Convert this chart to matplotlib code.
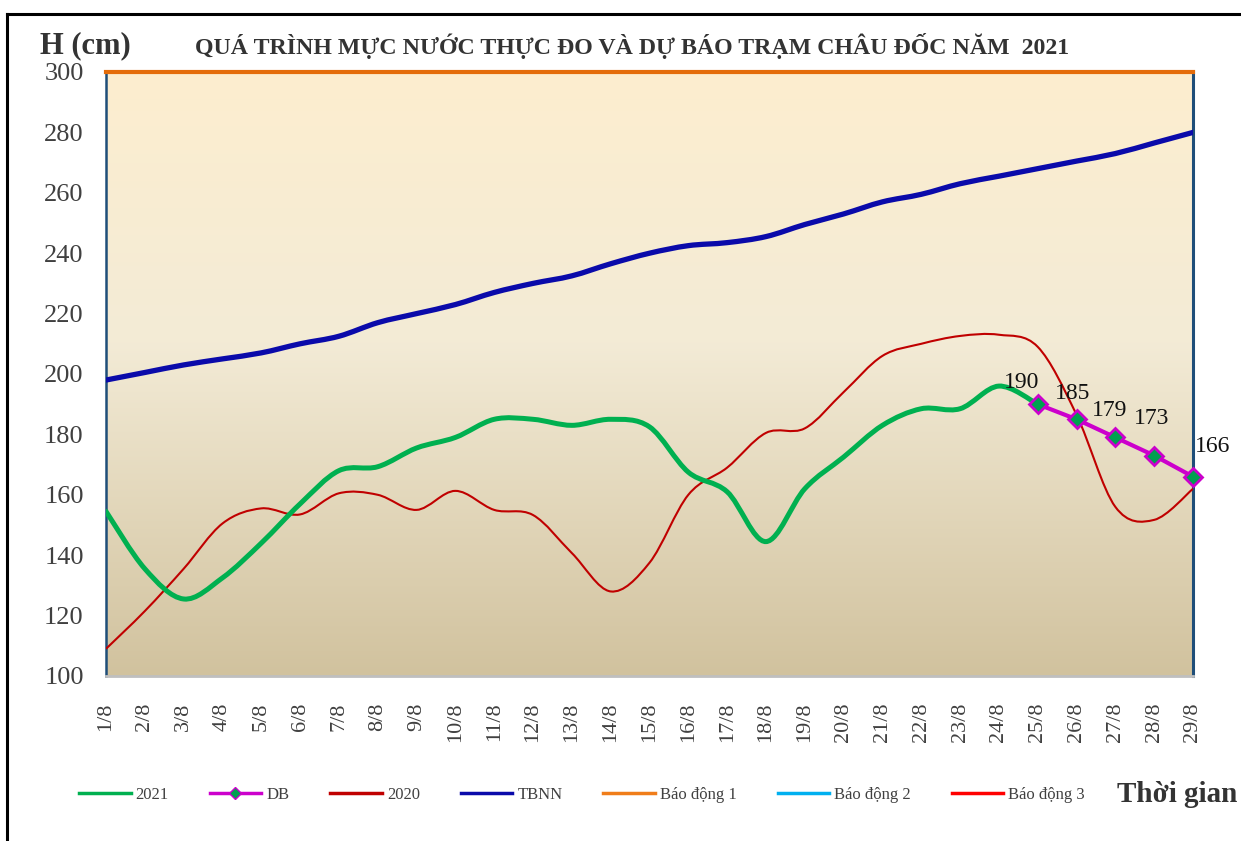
import numpy as np
import matplotlib
matplotlib.use("Agg")
import matplotlib.pyplot as plt
from matplotlib.path import Path
from matplotlib.patches import PathPatch
from matplotlib.lines import Line2D
from matplotlib.colors import LinearSegmentedColormap

plt.rcParams['font.family'] = ['Liberation Serif', 'DejaVu Serif']

# du lieu doc tu hinh
days = list(range(1, 30))
day_labels = ["{}/8".format(d) for d in days]

tbnn = [198, 200.5, 203, 205, 207, 210, 212.5, 217, 220, 223, 227, 230, 232.5, 236.5,
        240, 242.5, 243.5, 245.5, 249.5, 253, 257, 259.5, 263, 265.5, 268, 270.5, 273,
        276.5, 280]

h2021 = [154.5, 135.5, 125.5, 132.5, 144, 157, 168, 169.3, 175.5, 179, 185, 185, 183,
         185, 182.5, 167.5, 161, 144.5, 162, 172.5, 183, 188.5, 188.5, 196, 190]

h2020 = [109, 121.5, 135.5, 150.5, 155.5, 153.5, 160.5, 160, 155, 161.3, 155, 153.3,
         140.7, 128, 137.5, 160, 169, 180.5, 182, 194, 206, 210, 212.6, 213, 209,
         186.5, 156, 151.7, 162]

db_days = [25, 26, 27, 28, 29]
db = [190, 185, 179, 173, 166]

# muc bao dong tram Chau Doc (cm), nam ngoai khung truc
bd1, bd2, bd3 = 350, 400, 450


def smooth_path(x, y):
    # duong cong Bezier qua cac diem (kieu "smoothed line" cua Excel)
    pts = np.column_stack([x, y]).astype(float)
    n = len(pts)
    verts = [pts[0]]
    codes = [Path.MOVETO]
    for i in range(n - 1):
        p0 = pts[i - 1] if i > 0 else pts[i]
        p1 = pts[i]
        p2 = pts[i + 1]
        p3 = pts[i + 2] if i + 2 < n else pts[i + 1]
        c1 = p1 + (p2 - p0) / 6.0
        c2 = p2 - (p3 - p1) / 6.0
        verts += [c1, c2, p2]
        codes += [Path.CURVE4] * 3
    return Path(verts, codes)


fig = plt.figure(figsize=(12.41, 8.41), dpi=100)
ax = fig.add_axes([106 / 1241, 1 - 676 / 841, (1193 - 106) / 1241, (676 - 72) / 841])

# nen gradient (tren sang, duoi dam)
cmap = LinearSegmentedColormap.from_list(
    "nen", [(0, "#fdeecf"), (0.45, "#f3ebd6"), (1, "#d1c29e")])
grad = np.linspace(0, 1, 256).reshape(-1, 1)
ax.imshow(grad, cmap=cmap, extent=[1, 29, 100, 300], origin='upper', aspect='auto',
          zorder=0, interpolation='bilinear')
ax.set_xlim(1, 29)
ax.set_ylim(100, 300)

ax.add_patch(PathPatch(smooth_path(days, tbnn), fill=False, edgecolor='#0a0aaa',
                       lw=3.8, zorder=3, capstyle='round'))
ax.add_patch(PathPatch(smooth_path(days, h2020), fill=False, edgecolor='#c00000',
                       lw=1.5, zorder=4))
ax.add_patch(PathPatch(smooth_path(days[:len(h2021)], h2021), fill=False,
                       edgecolor='#00b050', lw=3.6, zorder=5, capstyle='round'))
ax.plot(db_days, db, color='#cc00cc', lw=3, marker='D', markersize=9,
        markerfacecolor='#00a050', markeredgecolor='#cc00cc', markeredgewidth=2,
        zorder=6, clip_on=False)
ax.plot(days, [bd1] * 29, color='#f07d1a', lw=2)
ax.plot(days, [bd2] * 29, color='#00b0f0', lw=2)
ax.plot(days, [bd3] * 29, color='#ff0000', lw=2)

offsets = [(-16, 22), (-4, 26), (-6, 27), (-3, 37), (20, 30)]
for xd, yd, off in zip(db_days, db, offsets):
    ax.annotate(str(yd), (xd, yd), xytext=(off[0] * 0.72, off[1] * 0.72),
                textcoords='offset points', ha='center', va='center',
                fontsize=17, color='#111111', zorder=7)

ax.set_yticks(range(100, 301, 20))
ax.set_xticks(days)
ax.set_xticklabels(day_labels, rotation=90, va='top', ha='center')
ax.tick_params(axis='y', length=0, pad=16, labelsize=19, labelcolor='#404040')
ax.tick_params(axis='x', length=0, pad=19, labelsize=16, labelcolor='#404040')

ax.spines['left'].set_color('#1f4e79')
ax.spines['left'].set_linewidth(1.8)
ax.spines['right'].set_color('#1f4e79')
ax.spines['right'].set_linewidth(2.2)
ax.spines['top'].set_color('#e46c0a')
ax.spines['top'].set_linewidth(3)
ax.spines['bottom'].set_color('#bfbfbf')
ax.spines['bottom'].set_linewidth(2)

fig.text(40 / 1241, 1 - 46 / 841, "H (cm)", fontsize=22, fontweight='bold',
         color='#333333', ha='left', va='center')
fig.text(632 / 1241, 1 - 46 / 841,
         "QUÁ TRÌNH MỰC NƯỚC THỰC ĐO VÀ DỰ BÁO TRẠM CHÂU ĐỐC NĂM  2021",
         fontsize=17.2, fontweight='bold', color='#333333', ha='center', va='center')

handles = [
    Line2D([], [], color='#00b050', lw=2.5),
    Line2D([], [], color='#cc00cc', lw=2.5, marker='D', markersize=6,
           markerfacecolor='#00a050', markeredgecolor='#cc00cc'),
    Line2D([], [], color='#c00000', lw=2.5),
    Line2D([], [], color='#0a0aaa', lw=2.5),
    Line2D([], [], color='#f07d1a', lw=2.5),
    Line2D([], [], color='#00b0f0', lw=2.5),
    Line2D([], [], color='#ff0000', lw=2.5),
]
names = ["2021", "DB", "2020", "TBNN", "Báo động 1", "Báo động 2", "Báo động 3"]
leg = fig.legend(handles, names, ncol=7, loc='center left',
                 bbox_to_anchor=(79 / 1241, 1 - 795 / 841), frameon=False,
                 fontsize=12, handlelength=3.1, handletextpad=0.3,
                 columnspacing=2.45, borderpad=0, borderaxespad=0)
for t in leg.get_texts():
    t.set_color('#404040')

fig.text(1117 / 1241, 1 - 795 / 841, "Thời gian", fontsize=21, fontweight='bold',
         color='#333333', ha='left', va='center')

# khung ngoai
fig.add_artist(Line2D([7 / 1241, 7 / 1241], [0, 1 - 14 / 841], color='black',
                      lw=2.2, transform=fig.transFigure))
fig.add_artist(Line2D([7 / 1241, 1], [1 - 14 / 841, 1 - 14 / 841], color='black',
                      lw=2.2, transform=fig.transFigure))

fig.savefig("out.png", dpi=100, facecolor='white')
